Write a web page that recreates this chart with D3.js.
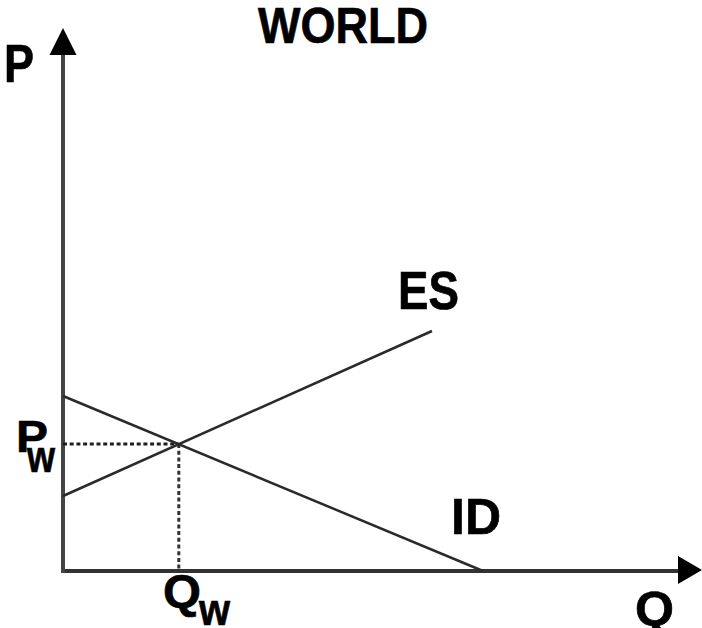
<!DOCTYPE html>
<html><head><meta charset="utf-8">
<script src="https://cdn.jsdelivr.net/npm/d3@7"></script>
<style>body{margin:0;background:#fff}svg{display:block}</style>
</head><body>
<svg id="c" width="702" height="628"></svg>
<script>
// Data (abstract P/Q units)
const axisMax = {q: 106.5, p: 108.6};
const idCurve = [{q: 0, p: 35}, {q: 70, p: 0}];      // Import demand
const esCurve = [{q: 0, p: 15}, {q: 61.5, p: 48}];   // Export supply
const equilibrium = {q: 19.3, p: 25.4};
const title = "WORLD";
const curveLabels = ["ES", "ID"];

const svg = d3.select("#c");
const x = d3.scaleLinear().domain([0, 100]).range([63, 663]);
const y = d3.scaleLinear().domain([0, 100]).range([571, 71]);
const ink = "#1e1e1e";

// Axes
svg.append("line").attr("x1", x(0)).attr("x2", x(axisMax.q) - 20)
  .attr("y1", y(0)).attr("y2", y(0)).attr("stroke", "#333").attr("stroke-width", 4);
svg.append("line").attr("x1", x(0)).attr("x2", x(0))
  .attr("y1", y(0) + 2).attr("y2", y(axisMax.p) + 20).attr("stroke", "#444").attr("stroke-width", 4);
// arrow heads
svg.append("path").attr("d", d3.line()([[x(0), y(axisMax.p)], [x(0) - 13.5, y(axisMax.p) + 27], [x(0) + 13.5, y(axisMax.p) + 27]]) + "Z").attr("fill", "#000");
svg.append("path").attr("d", d3.line()([[x(axisMax.q), y(0) - 1], [x(axisMax.q) - 24, y(0) - 15], [x(axisMax.q) - 24, y(0) + 13]]) + "Z").attr("fill", "#000");

// Dashed guides
svg.append("line").attr("x1", x(0)).attr("x2", x(equilibrium.q))
  .attr("y1", y(equilibrium.p)).attr("y2", y(equilibrium.p))
  .attr("stroke", ink).attr("stroke-width", 3).attr("stroke-dasharray", "4,2.7");
svg.append("line").attr("x1", x(equilibrium.q)).attr("x2", x(equilibrium.q))
  .attr("y1", y(equilibrium.p)).attr("y2", y(0))
  .attr("stroke", "#333").attr("stroke-width", 3).attr("stroke-dasharray", "4,2.7");

// Curves
const line = d3.line().x(d => x(d.q)).y(d => y(d.p));
[idCurve, esCurve].forEach(c => {
  svg.append("path").attr("d", line(c)).attr("fill", "none")
    .attr("stroke", "#2a2a2a").attr("stroke-width", 2.5);
});

// Text helper: left x, baseline y, font size, target width, vertical scale
function label(t, lx, by, size, w, sy) {
  svg.append("text").text(t)
    .attr("transform", `translate(${lx},${by}) scale(1,${sy})`)
    .attr("font-family", "Liberation Sans, Arial, sans-serif")
    .attr("font-weight", "bold").attr("font-size", size)
    .attr("textLength", w).attr("lengthAdjust", "spacingAndGlyphs")
    .attr("fill", "#000").attr("stroke", "#000").attr("stroke-width", 0.6);
}
label(title, 258, 43, 46, 170, 1.07);
label("P", 4, 82, 48, 30, 1.1);
label(curveLabels[0], 398, 309, 48, 61, 1.1);
label(curveLabels[1], 451, 534, 48, 50, 1.05);
label("Q", 635, 625, 46, 39, 1.05);
label("P", 16, 452, 42, 32, 1.07);
label("w", 27, 472, 40, 28, 1.1);
label("Q", 163, 607, 44, 38, 1.05);
label("w", 199, 625, 40, 31, 1.1);
</script>
</body></html>
